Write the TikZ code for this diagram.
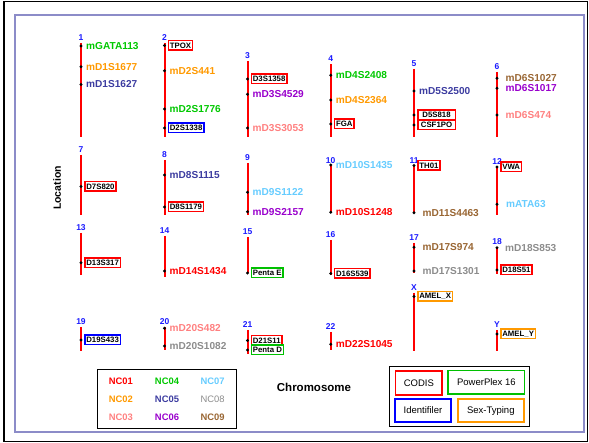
\documentclass[tikz,border=0pt]{standalone}
\usepackage{fontspec}
\setmainfont{Liberation Sans}
\definecolor{ncA}{HTML}{FF0000}
\definecolor{ncB}{HTML}{FF9900}
\definecolor{ncC}{HTML}{FF8080}
\definecolor{ncD}{HTML}{00C800}
\definecolor{ncE}{HTML}{3C3CA0}
\definecolor{ncF}{HTML}{9900CC}
\definecolor{ncG}{HTML}{66CCFF}
\definecolor{ncH}{HTML}{8C8C8C}
\definecolor{ncI}{HTML}{996633}
\definecolor{numblue}{HTML}{1A1AFF}
\definecolor{framelav}{HTML}{8C8CC8}
\definecolor{codis}{HTML}{FF0000}
\definecolor{ppsix}{HTML}{00C000}
\definecolor{ident}{HTML}{0000FF}
\definecolor{sextyp}{HTML}{FF9900}
% chromosome: name, x, top, bottom, number
\newcommand{\chrom}[5]{%
  \coordinate (#1t) at (#2,#3);
  \coordinate (#1b) at (#2,#4);
  \draw[chrline] (#1t) -- (#1b);
  \node[chrnum] (#1n) at (#2,#3-2.5) {#5};}
% locus: x, y, name, style, text
\newcommand{\locus}[5]{%
  \fill (#1,#2) circle (1.6);
  \node[#4] (#3) at (#1,#2) {#5};}
\begin{document}
\begin{tikzpicture}[x=1pt,y=-1pt,
  chrline/.style={draw=red, line width=2},
  chrnum/.style={text=numblue, font=\bfseries\fontsize{8.5}{9}\selectfont, inner sep=0, anchor=base},
  mk/.style={font=\bfseries\fontsize{10.1}{10}\selectfont, inner sep=0, anchor=west, xshift=5},
  bx/.style={draw=#1, line width=1.5, fill=white, text=black,
    font=\bfseries\fontsize{7.8}{8}\selectfont, inner xsep=1.6, inner ysep=0,
    minimum height=9.5, anchor=west, xshift=3},
  nclab/.style={font=\bfseries\fontsize{9.4}{10}\selectfont, inner sep=0},
  kitbox/.style={draw=#1, line width=1.8, text=black, font=\fontsize{9.5}{10}\selectfont,
    minimum height=23.4, inner sep=0},
]
\useasboundingbox (0,0) rectangle (589,443);
\draw[line width=1.6] (4,1.5) rectangle (587.5,441.5);
\draw[framelav, line width=1.2] (15,15) rectangle (584,432);

% row 1
\chrom{c1}{81}{43}{137}{1}
\locus{81}{46}{l1a}{mk,text=ncD}{mGATA113}
\locus{81}{66.7}{l1b}{mk,text=ncB}{mD1S1677}
\locus{81}{84.5}{l1c}{mk,text=ncE}{mD1S1627}

\chrom{c2}{164.5}{43}{137}{2}
\locus{164.5}{45.5}{l2a}{bx=codis}{TPOX}
\locus{164.5}{70.7}{l2b}{mk,text=ncB}{mD2S441}
\locus{164.5}{109}{l2c}{mk,text=ncD}{mD2S1776}
\locus{164.5}{128}{l2d}{bx=ident}{D2S1338}

\chrom{c3}{247.5}{61.5}{137}{3}
\locus{247.5}{79}{l3a}{bx=codis}{D3S1358}
\locus{247.5}{94.3}{l3b}{mk,text=ncF}{mD3S4529}
\locus{247.5}{128}{l3c}{mk,text=ncC}{mD3S3053}

\chrom{c4}{330.7}{64.5}{137}{4}
\locus{330.7}{75.3}{l4a}{mk,text=ncD}{mD4S2408}
\locus{330.7}{100}{l4b}{mk,text=ncB}{mD4S2364}
\locus{330.7}{124}{l4c}{bx=codis}{FGA}

\chrom{c5}{414}{69}{137}{5}
\locus{414}{91}{l5a}{mk,text=ncE}{mD5S2500}
\locus{414}{115}{l5b}{bx=codis,minimum width=37.5}{D5S818}
\locus{414}{125}{l5c}{bx=codis,minimum width=37.5}{CSF1PO}

\chrom{c6}{497}{72}{137}{6}
\locus{497}{78.3}{l6a}{mk,xshift=3.5,text=ncI}{mD6S1027}
\locus{497}{88.3}{l6b}{mk,xshift=3.5,text=ncF}{mD6S1017}
\locus{497}{115}{l6c}{mk,xshift=3.5,text=ncC}{mD6S474}

% row 2
\chrom{c7}{81}{155}{215}{7}
\locus{81}{186.5}{l7a}{bx=codis}{D7S820}

\chrom{c8}{164.5}{160}{215}{8}
\locus{164.5}{175}{l8a}{mk,text=ncE}{mD8S1115}
\locus{164.5}{207}{l8b}{bx=codis}{D8S1179}

\chrom{c9}{247.5}{163}{215}{9}
\locus{247.5}{192.3}{l9a}{mk,text=ncG}{mD9S1122}
\locus{247.5}{211.7}{l9b}{mk,text=ncF}{mD9S2157}

\chrom{c10}{330.7}{166}{212.3}{10}
\locus{330.7}{165}{l10a}{mk,text=ncG}{mD10S1435}
\locus{330.7}{212.3}{l10b}{mk,text=ncA}{mD10S1248}

\chrom{c11}{414}{166}{212.7}{11}
\locus{414}{165.5}{l11a}{bx=codis}{TH01}
\locus{414}{212.7}{l11b}{mk,xshift=3.5,text=ncI}{mD11S4463}

\chrom{c12}{497}{167}{215}{12}
\locus{497}{167}{l12a}{bx=codis}{VWA}
\locus{497}{204.3}{l12b}{mk,xshift=4,text=ncG}{mATA63}

% row 3
\chrom{c13}{81}{233}{275}{13}
\locus{81}{262.7}{l13a}{bx=codis}{D13S317}

\chrom{c14}{164.5}{236}{277}{14}
\locus{164.5}{271}{l14a}{mk,text=ncA}{mD14S1434}

\chrom{c15}{247.5}{237.5}{273.5}{15}
\locus{247.5}{273}{l15a}{bx=ppsix}{Penta E}

\chrom{c16}{330.7}{240}{275}{16}
\locus{330.7}{273.5}{l16a}{bx=codis}{D16S539}

\chrom{c17}{414}{243}{273}{17}
\locus{414}{247.3}{l17a}{mk,xshift=3.5,text=ncI}{mD17S974}
\locus{414}{271}{l17b}{mk,xshift=3.5,text=ncH}{mD17S1301}

\chrom{c18}{497}{247}{274}{18}
\locus{497}{247.7}{l18a}{mk,xshift=3,text=ncH}{mD18S853}
\locus{497}{270}{l18b}{bx=codis}{D18S51}

% sex chromosomes
\chrom{cx}{414}{293}{351}{X}
\locus{414}{296.5}{lxa}{bx=sextyp}{AMEL\_X}

\chrom{cy}{497}{330}{351}{Y}
\locus{497}{334}{lya}{bx=sextyp}{AMEL\_Y}

% row 4
\chrom{c19}{81}{327}{351}{19}
\locus{81}{340}{l19a}{bx=ident}{D19S433}

\chrom{c20}{164.5}{327}{350}{20}
\locus{164.5}{328.3}{l20a}{mk,text=ncC}{mD20S482}
\locus{164.5}{346}{l20b}{mk,text=ncH}{mD20S1082}

\chrom{c21}{247.5}{330}{354}{21}
\locus{247.5}{340.5}{l21a}{bx=codis}{D21S11}
\locus{247.5}{350}{l21b}{bx=ppsix}{Penta D}

\chrom{c22}{330.7}{332}{350}{22}
\locus{330.7}{344.3}{l22a}{mk,text=ncA}{mD22S1045}

% axis titles
\node[font=\bfseries\fontsize{10.5}{11}\selectfont, rotate=90, inner sep=0] (loc) at (57,188) {Location};
\node[font=\bfseries\fontsize{11.5}{12}\selectfont, inner sep=0] (chr) at (314,387) {Chromosome};

% colour legend
\node[draw, line width=1, minimum width=138.8, minimum height=59.3, inner sep=0] (lg1) at (166.8,399) {};
\node[nclab, text=ncA] (n1) at (120.8,380.8) {NC01};
\node[nclab, text=ncD] (n4) at (167,380.8) {NC04};
\node[nclab, text=ncG] (n7) at (212.6,380.8) {NC07};
\node[nclab, text=ncB] (n2) at (120.8,398.9) {NC02};
\node[nclab, text=ncE] (n5) at (167,398.9) {NC05};
\node[nclab, text=ncH, font=\fontsize{9.4}{10}\selectfont] (n8) at (212.6,398.9) {NC08};
\node[nclab, text=ncC] (n3) at (120.8,417.4) {NC03};
\node[nclab, text=ncF] (n6) at (167,417.4) {NC06};
\node[nclab, text=ncI] (n9) at (212.6,417.4) {NC09};

% kit legend
\node[draw, line width=1, minimum width=139.2, minimum height=59.2, inner sep=0] (lg2) at (459.4,396.4) {};
\node[kitbox=codis, minimum width=46.8] (kc) at (418.9,383) {CODIS};
\node[kitbox=ppsix, minimum width=76.2] (kp) at (486.4,382.3) {PowerPlex 16};
\node[kitbox=ident, minimum width=56] (ki) at (423,410.6) {Identifiler};
\node[kitbox=sextyp, minimum width=66] (ks) at (490.8,410.6) {Sex-Typing};
\end{tikzpicture}
\end{document}
